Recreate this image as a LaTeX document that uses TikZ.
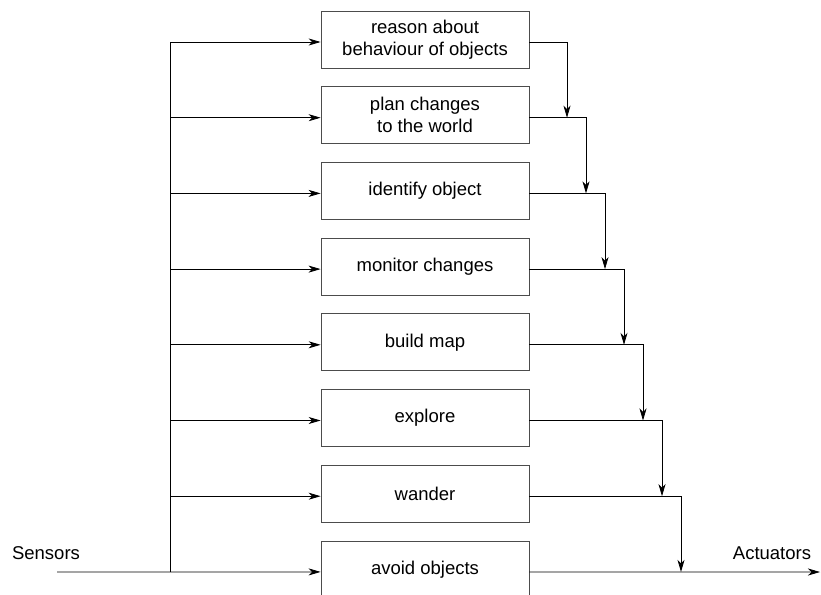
\documentclass[tikz,border=0pt]{standalone}
\usepackage{fontspec}
\setmainfont{Liberation Sans}
\usetikzlibrary{arrows.meta}
\begin{document}
\begin{tikzpicture}[x=1pt,y=-1pt,
  layerbox/.style={draw=black!70,line width=0.8pt,minimum width=208pt,minimum height=57pt,
    align=center,inner sep=0pt,font=\fontsize{18.5}{22}\selectfont},
  flow/.style={draw=black,line width=0.8pt},
  arr/.style={flow,-{Stealth[length=12pt,width=7pt,inset=3.5pt]}},
  lbl/.style={font=\fontsize{18.5}{22}\selectfont}]
\useasboundingbox (0,0) rectangle (821,594);
\clip (0,0) rectangle (821,594);
% competence layers, top to bottom
\foreach \i/\t in {1/{reason about\\behaviour of objects},2/{plan changes\\to the world},
  3/identify object,4/monitor changes,5/build map,6/explore,7/wander,8/avoid objects}{
  \pgfmathsetmacro{\r}{42+(\i-1)*75.7}
  \node[layerbox] (b\i) at (425,\r-2.5) {\t};
  \coordinate (s\i) at (170,\r);
}
% sensor input and bus
\coordinate (sin) at (57,572);
\node[lbl] (sens) at (46,553) {Sensors};
\node[lbl] (act) at (772,553) {Actuators};
\coordinate (aout) at (820,572);
\draw[arr] (sin) -- ([yshift=-2.5pt]b8.west);
\draw[flow] (s8) -- (s1);
\foreach \i in {1,...,7}{
  \draw[arr] (s\i) -- ([yshift=-2.5pt]b\i.west);
}
% outputs cascading down to the actuators
\foreach \i/\x in {1/567,2/586,3/605,4/624,5/643,6/662,7/681}{
  \pgfmathsetmacro{\r}{42+\i*75.7}
  \coordinate (d\i) at (\x,\r);
  \draw[arr] ([yshift=-2.5pt]b\i.east) -| (d\i);
}
\draw[arr] ([yshift=-2.5pt]b8.east) -- (aout);
\end{tikzpicture}
\end{document}
